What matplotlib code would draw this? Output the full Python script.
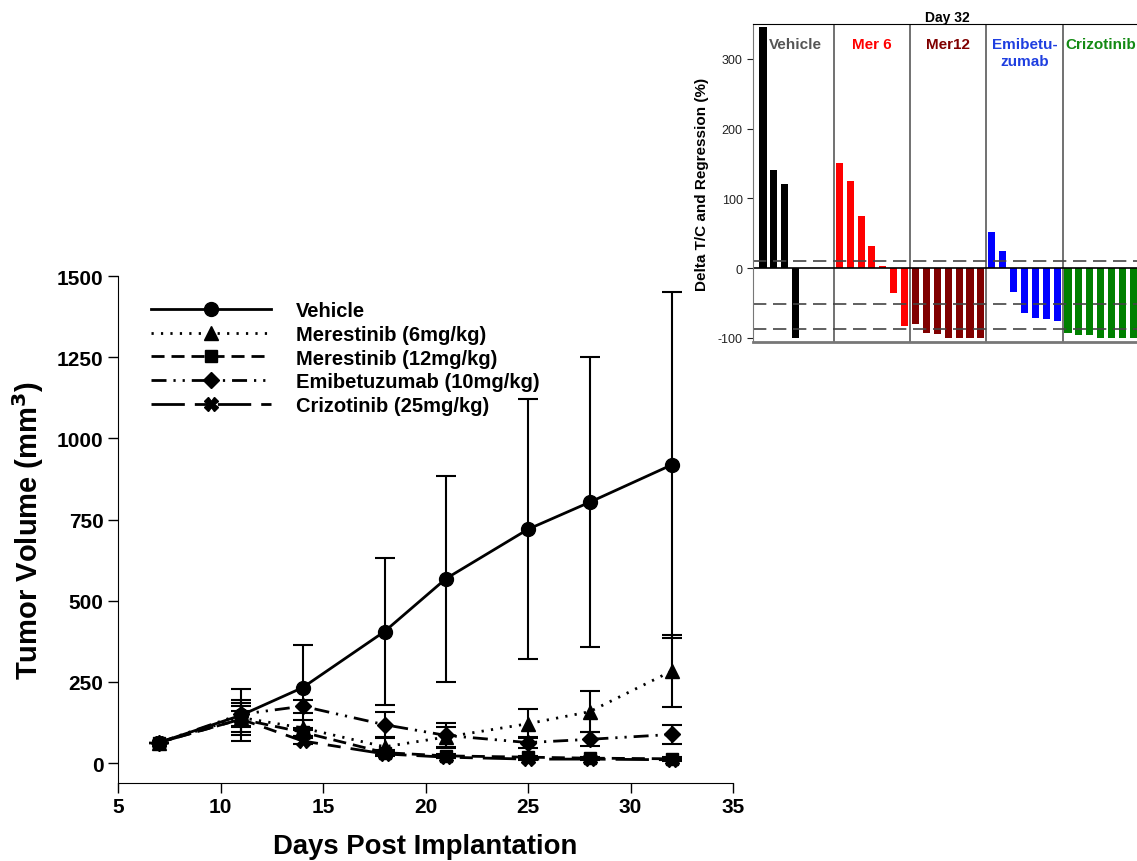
import matplotlib.pyplot as plt
import numpy as np

plt.rcParams['font.family'] = ['Liberation Sans', 'DejaVu Sans']
plt.rcParams['font.weight'] = 'bold'
plt.rcParams['axes.unicode_minus'] = False

# tumour growth curves
days = [7, 11, 14, 18, 21, 25, 28, 32]
vehicle = [63, 147, 232, 405, 568, 720, 803, 918]
vehicle_err = [0, 80, 130, 227, 317, 400, 447, 534]
mer6 = [63, 140, 108, 50, 80, 121, 158, 283]
mer6_err = [0, 55, 25, 26, 30, 45, 64, 111]
mer12 = [63, 135, 95, 32, 22, 18, 15, 13]
mer12_err = [0, 40, 12, 8, 6, 5, 4, 4]
emi = [63, 150, 175, 118, 85, 63, 73, 88]
emi_err = [0, 35, 20, 38, 38, 17, 22, 28]
criz = [63, 135, 68, 28, 18, 12, 12, 10]
criz_err = [0, 25, 10, 6, 4, 3, 3, 3]

# day 32 waterfall (inset)
group_names = ['Vehicle', 'Mer 6', 'Mer12', 'Emibetu-\nzumab', 'Crizotinib']
d32_vehicle = [345, 140, 121, -100]
d32_mer6 = [151, 125, 75, 32, 3, -36, -83]
d32_mer12 = [-80, -93, -95, -100, -100, -100, -100]
d32_emi = [52, 25, -35, -65, -72, -73, -76]
d32_criz = [-93, -96, -96, -100, -100, -100, -100]
ref_lines = [10, -52, -88]

fig = plt.figure(figsize=(11.37, 8.62), dpi=100)
W, H = 1137, 862

# ---------------- main plot ----------------
ax = fig.add_axes([118 / W, (H - 783.5) / H, 615 / W, 506.5 / H])

series = [
    ('Vehicle', vehicle, vehicle_err, 'o', '-', 10),
    ('Merestinib (6mg/kg)', mer6, mer6_err, '^', (0, (0.8, 2.6)), 10),
    ('Merestinib (12mg/kg)', mer12, mer12_err, 's', (0, (4.7, 2.5)), 9),
    ('Emibetuzumab (10mg/kg)', emi, emi_err, 'D', (0, (5.4, 2.5, 0.8, 2.5, 0.8, 2.5)), 8),
    ('Crizotinib (25mg/kg)', criz, criz_err, 'X', (0, (12, 3.6, 4.7, 3.6)), 10),
]
for name, vals, err, mk, ls, ms in series:
    ax.errorbar(days, vals, yerr=err, fmt='none', ecolor='black',
                elinewidth=1.5, capsize=7, capthick=1.5)
    ax.plot(days, vals, color='black', linestyle=ls, linewidth=2,
            marker=mk, markersize=ms, label=name)

ax.set_xlim(5, 35)
ax.set_ylim(-60, 1500)
ax.set_xticks([5, 10, 15, 20, 25, 30, 35])
ax.set_yticks([0, 250, 500, 750, 1000, 1250, 1500])
ax.spines['top'].set_visible(False)
ax.spines['right'].set_visible(False)
ax.tick_params(direction='out', length=7, width=1, labelsize=15)
for lab in ax.get_xticklabels() + ax.get_yticklabels():
    lab.set_fontweight('bold')
ax.set_xlabel('Days Post Implantation', fontsize=19.8, fontweight='bold', labelpad=12)
ax.set_ylabel('Tumor Volume (mm$^\\mathbf{3}$)', fontsize=21, fontweight='bold', labelpad=8)

leg = ax.legend(loc='upper left', bbox_to_anchor=(0.04, 0.966), frameon=False,
                handlelength=6, handletextpad=1.2, labelspacing=0.23,
                fontsize=14.5, borderaxespad=0)
for t in leg.get_texts():
    t.set_fontweight('bold')

# ---------------- inset waterfall ----------------
ins = fig.add_axes([753 / W, (H - 343) / H, (1141 - 753) / W, 318 / H])
all_groups = [d32_vehicle, d32_mer6, d32_mer12, d32_emi, d32_criz]
bar_colors = ['black', '#ff0000', '#800000', '#0000ff', '#008000']
text_colors = ['#555555', '#ff0000', '#800000', '#1f3fe0', '#138a13']
for gi, vals in enumerate(all_groups):
    xs = [7 * gi + j for j in range(len(vals))]
    ins.bar(xs, vals, width=0.65, color=bar_colors[gi])
    ins.text(7 * gi + 3, 331, group_names[gi], ha='center', va='top',
             fontsize=11, fontweight='bold', color=text_colors[gi], linespacing=1.25)
for sx in [6.5, 13.5, 20.5, 27.5]:
    ins.axvline(sx, color='#666666', linewidth=1.3)
ins.axhline(0, color='black', linewidth=1.2)
for ry in ref_lines:
    ins.axhline(ry, color='#444444', linewidth=1.2, dashes=(8, 4))

ins.set_xlim(-0.92, 34.7)
ins.set_ylim(-106, 350)
ins.set_yticks([-100, 0, 100, 200, 300])
ins.set_xticks([])
ins.spines['right'].set_visible(False)
ins.spines['left'].set_color('#777777')
ins.spines['bottom'].set_color('#777777')
ins.spines['bottom'].set_linewidth(2)
ins.tick_params(axis='y', direction='out', length=4, labelsize=9, colors='#222222')
for lab in ins.get_yticklabels():
    lab.set_fontweight('normal')
ins.set_title('Day 32', fontsize=10, fontweight='bold', pad=2)
ins.set_ylabel('Delta T/C and Regression (%)', fontsize=11, fontweight='bold', labelpad=6)

fig.savefig('out.png', dpi=100)
